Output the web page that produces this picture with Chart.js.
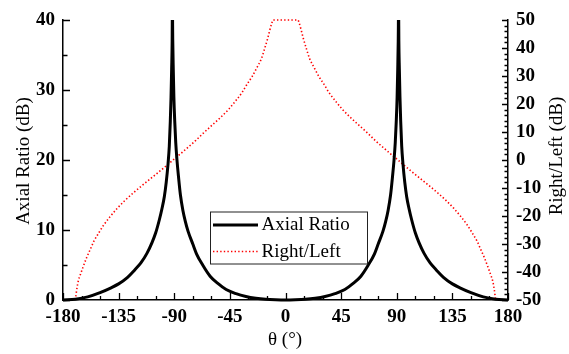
<!DOCTYPE html>
<html>
<head>
<meta charset="utf-8">
<script src="https://cdn.jsdelivr.net/npm/chart.js@4.4.1/dist/chart.umd.min.js"></script>
<style>
html,body{margin:0;padding:0;background:#fff;}
canvas{display:block;}
</style>
</head>
<body>
<canvas id="c" width="569" height="354"></canvas>
<script>
// ---- data ----
const arAngles = [-180,-170,-160,-150,-142,-135,-128,-122,-117,-112,-108,-105,-102,-100,-98,-96.5,-95,-94,-93.2,-92.6,-92.1,-91.7,-91.5,-91.2,-90.8,-90.3,-89.6,-88.8,-87.8,-86.5,-85,-83,-81,-78.8,-75,-72,-67,-61,-55,-48,-40,-32,-24,-16,-8,0,
  8,16,24,32,40,48,55,61,67,72,75,78.8,81,83,85,86.5,87.8,88.8,89.6,90.3,90.8,91.2,91.5,91.7,92.1,92.6,93.2,94,95,96.5,98,100,102,105,108,112,117,122,128,135,142,150,160,170,180];
const arValues = [0,0.12,0.45,1.05,1.67,2.3,3.2,4.3,5.3,6.7,8.2,9.6,11.5,13.0,14.8,16.8,19.5,22,25.5,29,33,37,42,37,33,29,25.5,22.5,20,17.5,15,12.8,11.2,9.8,8,6.6,5.0,3.4,2.4,1.5,0.9,0.5,0.25,0.1,0.03,0,
  0.03,0.1,0.25,0.5,0.9,1.5,2.4,3.4,5.0,6.6,8,9.8,11.2,12.8,15,17.5,20,22.5,25.5,29,33,37,42,37,33,29,25.5,22,19.5,16.8,14.8,13.0,11.5,9.6,8.2,6.7,5.3,4.3,3.2,2.3,1.67,1.05,0.45,0.12,0];

const rlAngles = [-170,-168.8,-167.5,-166,-164,-161,-158,-155,-151,-147,-142,-136,-130,-123,-116,-109,-102,-96,-91,-85,-80,-73,-66.7,-60,-53,-46,-40,-35,-31.5,-27,-23.5,-19.5,-16.8,-14.5,-12.7,-11,-10,-5,0,
  5,10,11,12.7,14.5,16.8,19.5,23.5,27,31.5,35,40,46,53,60,66.7,73,80,85,91,96,102,109,116,123,130,136,142,147,151,155,158,161,164,166,167.5,168.8,170];
const rlValues = [-50,-46,-43,-41,-38.5,-35,-32,-29,-26,-23.2,-20.3,-17.2,-14.5,-11.7,-9.1,-6.6,-4.1,-1.9,0,2.2,4.1,6.8,9.5,12.2,15,18.1,21.3,24.2,26.8,29.8,32.7,36.2,39.9,43.3,46.4,49,50,50,50,
  50,50,49,46.4,43.3,39.9,36.2,32.7,29.8,26.8,24.2,21.3,18.1,15,12.2,9.5,6.8,4.1,2.2,0,-1.9,-4.1,-6.6,-9.1,-11.7,-14.5,-17.2,-20.3,-23.2,-26,-29,-32,-35,-38.5,-41,-43,-46,-50];

const xTickMarks = [-180,-165,-150,-135,-120,-105,-90,-75,-60,-45,-30,-15,0,15,30,45,60,75,90,105,120,135,150,165,180];
const leftTickMarks = [0,5,10,15,20,25,30,35,40];
const rightTickMarks = [-50,-48,-46,-44,-42,-40,-38,-36,-34,-32,-30,-28,-26,-24,-22,-20,-18,-16,-14,-12,-10,-8,-6,-4,-2,0,2,4,6,8,10,12,14,16,18,20,22,24,26,28,30,32,34,36,38,40,42,44,46,48,50];

const seriesNames = ['Axial Ratio', 'Right/Left'];
const axisTitles = {left: 'Axial Ratio (dB)', right: 'Right/Left (dB)', bottom: 'θ (°)'};

const SERIF = '"Liberation Serif", "Times New Roman", serif';

const arData = arAngles.map((a, i) => ({x: a, y: arValues[i]}));
const rlData = rlAngles.map((a, i) => ({x: a, y: rlValues[i]}));

const tickPlugin = {
  id: 'tickmarks',
  afterDraw(chart) {
    const ctx = chart.ctx;
    const xs = chart.scales.x, yl = chart.scales.y, yr = chart.scales.y2;
    const ca = chart.chartArea;
    ctx.save();
    ctx.strokeStyle = '#000';
    ctx.lineWidth = 1.3;
    ctx.beginPath();
    xTickMarks.forEach(v => {
      const px = Math.round(xs.getPixelForValue(v)) + 0.5;
      const len = (v % 45 === 0) ? 7 : 4;
      ctx.moveTo(px, ca.bottom);
      ctx.lineTo(px, ca.bottom - len);
    });
    leftTickMarks.forEach(v => {
      const py = Math.round(yl.getPixelForValue(v)) + 0.5;
      const len = (v % 10 === 0) ? 7 : 4.5;
      ctx.moveTo(ca.left, py);
      ctx.lineTo(ca.left + len, py);
    });
    rightTickMarks.forEach(v => {
      const py = Math.round(yr.getPixelForValue(v)) + 0.5;
      const len = (v % 10 === 0) ? 6 : 3.5;
      ctx.moveTo(ca.right, py);
      ctx.lineTo(ca.right - len, py);
    });
    ctx.stroke();

    // axis titles
    ctx.fillStyle = '#000';
    ctx.font = '19px ' + SERIF;
    ctx.textAlign = 'center';
    ctx.textBaseline = 'middle';
    ctx.save();
    ctx.translate(24, 161);
    ctx.rotate(-Math.PI / 2);
    ctx.fillText(axisTitles.left, 0, 0);
    ctx.restore();
    ctx.save();
    ctx.translate(557, 156);
    ctx.rotate(-Math.PI / 2);
    ctx.fillText(axisTitles.right, 0, 0);
    ctx.restore();
    ctx.fillText(axisTitles.bottom, 285, 340);

    // legend
    const bx = 210, by = 211.5, bw = 157, bh = 52;
    ctx.lineWidth = 1;
    ctx.strokeStyle = '#222';
    ctx.strokeRect(bx + 0.5, by + 0.5, bw, bh);
    const ds = chart.data.datasets;
    const rows = [225, 251.5];
    rows.forEach((ry, i) => {
      ctx.save();
      ctx.strokeStyle = ds[i].borderColor;
      ctx.lineWidth = ds[i].borderWidth;
      ctx.setLineDash(ds[i].borderDash || []);
      ctx.beginPath();
      ctx.moveTo(213, ry);
      ctx.lineTo(258, ry);
      ctx.stroke();
      ctx.restore();
      ctx.fillStyle = '#000';
      ctx.font = '19px ' + SERIF;
      ctx.textAlign = 'left';
      ctx.textBaseline = 'middle';
      ctx.fillText(ds[i].label, 261.5, ry + 0.5);
    });
    ctx.restore();
  }
};

new Chart(document.getElementById('c'), {
  type: 'line',
  data: {
    datasets: [
      {
        label: seriesNames[0],
        data: arData,
        yAxisID: 'y',
        borderColor: '#000',
        borderWidth: 3,
        pointRadius: 0,
        cubicInterpolationMode: 'monotone',
        clip: {left: 2, top: 0, right: 2, bottom: 3},
        fill: false
      },
      {
        label: seriesNames[1],
        data: rlData,
        yAxisID: 'y2',
        borderColor: '#ff0000',
        borderWidth: 1.6,
        borderDash: [1.4, 2.2],
        pointRadius: 0,
        cubicInterpolationMode: 'monotone',
        clip: {left: 2, top: 1, right: 2, bottom: 2},
        fill: false
      }
    ]
  },
  options: {
    responsive: false,
    animation: false,
    devicePixelRatio: 1,
    layout: {padding: {top: 20, left: 0, right: 0, bottom: 0}},
    plugins: {legend: {display: false}, tooltip: {enabled: false}},
    scales: {
      x: {
        type: 'linear',
        min: -180, max: 180,
        grid: {display: false, drawTicks: false},
        border: {display: true, color: '#000', width: 1.5},
        ticks: {stepSize: 45, padding: 6, color: '#000', font: {family: SERIF, size: 19, weight: 'bold'}, maxRotation: 0, autoSkip: false},
        afterFit(s) { s.height = 54; }
      },
      y: {
        position: 'left',
        min: 0, max: 40,
        grid: {display: false, drawTicks: false},
        border: {display: true, color: '#000', width: 1.5},
        ticks: {stepSize: 10, padding: 8, color: '#000', font: {family: SERIF, size: 19, weight: 'bold'}},
        afterFit(s) { s.width = 63; }
      },
      y2: {
        position: 'right',
        min: -50, max: 50,
        grid: {display: false, drawTicks: false},
        border: {display: true, color: '#000', width: 1.5},
        ticks: {stepSize: 10, padding: 8, color: '#000', font: {family: SERIF, size: 19, weight: 'bold'}},
        afterFit(s) { s.width = 61; }
      }
    }
  },
  plugins: [tickPlugin]
});
</script>
</body>
</html>
